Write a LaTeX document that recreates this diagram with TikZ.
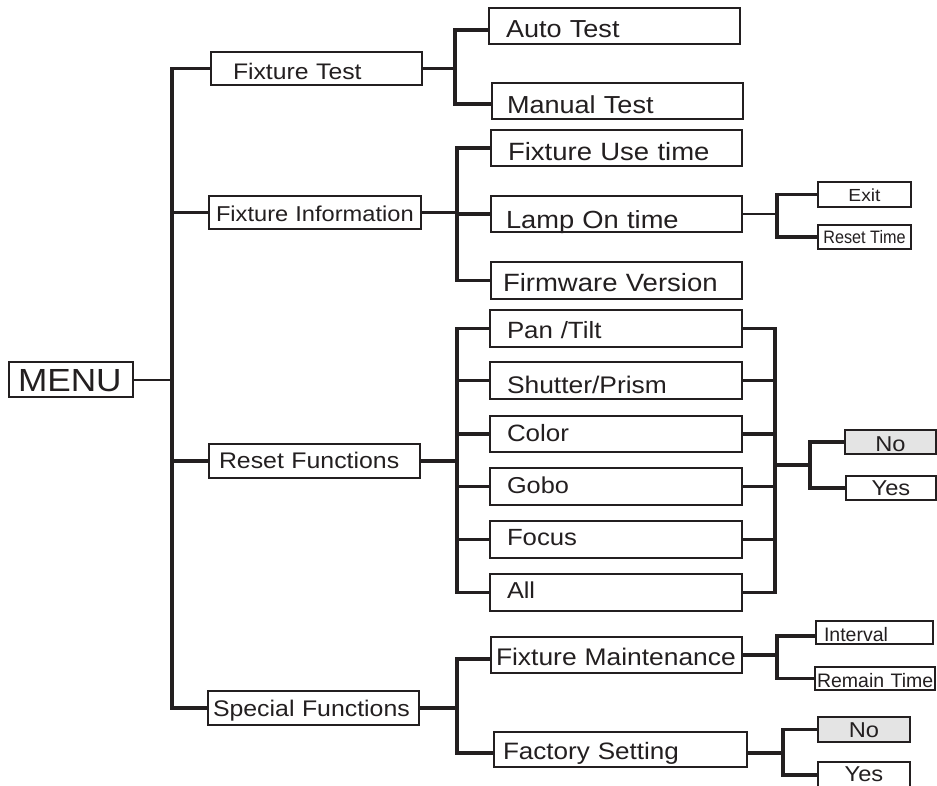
\documentclass[tikz,border=0pt]{standalone}
\usepackage{fontspec}
\newfontfamily\lab[FakeStretch=1.1]{Liberation Sans}
\newfontfamily\labn{Liberation Sans}
\newfontfamily\labc[FakeStretch=0.9]{Liberation Sans}
\definecolor{ink}{HTML}{231F20}
\definecolor{shade}{HTML}{E4E4E4}
\begin{document}
\begin{tikzpicture}[x=1pt,y=-1pt,
  box/.style={draw=ink, line width=1.9pt, rectangle, inner ysep=0pt, outer sep=0pt,
    text=ink, align=left, execute at begin node={\hyphenpenalty=10000 \exhyphenpenalty=10000 }},
  cbox/.style={draw=ink, line width=1.9pt, rectangle, inner sep=0pt, outer sep=0pt,
    text=ink, align=center},
  fs/.style n args={2}{font=\lab\fontsize{#1}{#1}\selectfont,
    /utils/exec={\pgfmathsetlengthmacro\mytxth{0.72*#1pt+2*(#2pt)}},
    text height=\mytxth, text depth=0pt},
  fn/.style n args={2}{font=\labn\fontsize{#1}{#1}\selectfont,
    /utils/exec={\pgfmathsetlengthmacro\mytxth{0.72*#1pt+2*(#2pt)}},
    text height=\mytxth, text depth=0pt},
  fc/.style n args={2}{font=\labc\fontsize{#1}{#1}\selectfont,
    /utils/exec={\pgfmathsetlengthmacro\mytxth{0.72*#1pt+2*(#2pt)}},
    text height=\mytxth, text depth=0pt},
  conn/.style={draw=ink, line width=3.2pt},
  thin/.style={draw=ink, line width=2pt}]
\useasboundingbox (0,0) rectangle (937,785);
\fill[white] (0,0) rectangle (937,785);
% level 0 and 1
\node[box, fs={32}{0}, text width=106pt, inner xsep=9pt, minimum height=35pt] (MENU) at (71,379.5) {MENU};
\node[box, fs={22.5}{3}, text width=167pt, inner xsep=22pt, minimum height=33pt] (FT) at (316.5,68.5) {Fixture~Test};
\node[box, fs={21.5}{1.5}, text width=198pt, inner xsep=7pt, minimum height=33pt] (FI) at (315,212.5) {Fixture~Information};
\node[box, fs={22.6}{-1}, text width=191pt, inner xsep=10pt, minimum height=34pt] (RF) at (314.5,461) {Reset~Functions};
\node[box, fs={22.6}{0}, text width=201pt, inner xsep=5pt, minimum height=34pt] (SF) at (313.5,708) {Special~Functions};
% level 2
\node[box, fs={24.6}{2.5}, text width=217pt, inner xsep=17pt, minimum height=36pt] (AT) at (614.5,26) {Auto~Test};
\node[box, fs={24.6}{4}, text width=221pt, inner xsep=15pt, minimum height=36pt] (MT) at (617.5,101) {Manual~Test};
\node[box, fs={25}{3.5}, text width=217pt, inner xsep=17pt, minimum height=36pt] (FU) at (616.5,148) {Fixture~Use~time};
\node[box, fs={24.8}{5.5}, text width=221pt, inner xsep=15pt, minimum height=36pt] (LO) at (616.5,214) {Lamp~On~time};
\node[box, fs={25}{2}, text width=227pt, inner xsep=12pt, minimum height=37pt] (FW) at (616.5,280.5) {Firmware~Version};
\node[box, fs={23.5}{2}, text width=218pt, inner xsep=17pt, minimum height=37pt] (PT) at (616,328.5) {Pan~/Tilt};
\node[box, fs={24}{4.5}, text width=218pt, inner xsep=17pt, minimum height=37pt] (SP) at (616,380.5) {Shutter/Prism};
\node[box, fs={23.6}{-1}, text width=218pt, inner xsep=17pt, minimum height=36pt] (CO) at (616,434) {Color};
\node[box, fs={23}{-1}, text width=218pt, inner xsep=17pt, minimum height=37pt] (GO) at (616,486.5) {Gobo};
\node[box, fs={23.4}{-2}, text width=218pt, inner xsep=17pt, minimum height=37pt] (FO) at (616,539.5) {Focus};
\node[box, fs={23}{-2.5}, text width=218pt, inner xsep=17pt, minimum height=37pt] (AL) at (616,592.5) {All};
\node[box, fs={24}{1.5}, text width=241pt, inner xsep=5pt, minimum height=36pt] (FM) at (616.5,655) {Fixture~Maintenance};
\node[box, fs={23.7}{1}, text width=235pt, inner xsep=9pt, minimum height=35pt] (FS) at (620.5,749.5) {Factory~Setting};
% level 3
\node[cbox, fs={17.5}{0.5}, minimum width=93pt, minimum height=25pt] (EX) at (864.5,194.5) {Exit};
\node[cbox, fc={18}{0}, minimum width=93pt, minimum height=24pt] (RT) at (864.5,237) {Reset~Time};
\node[cbox, fs={21.5}{1.5}, fill=shade, minimum width=91pt, minimum height=24pt] (NOa) at (890.5,442) {No};
\node[cbox, fs={21.5}{0}, minimum width=90pt, minimum height=24pt] (YEa) at (891,488) {Yes};
\node[box, fn={19.5}{2}, text width=101pt, inner xsep=8pt, minimum height=23pt] (IV) at (874.5,632.5) {Interval};
\node[box, fn={19.5}{2}, text width=116pt, inner xsep=2pt, minimum height=23pt] (RM) at (875,678.5) {Remain~Time};
\node[cbox, fs={21.5}{0}, fill=shade, minimum width=92pt, minimum height=25pt] (NOb) at (864,729.5) {No};
\node[cbox, fs={21.5}{-1}, minimum width=92pt, minimum height=26pt] (YEb) at (864,775) {Yes};
% bus coordinates
\coordinate (tk) at (172,0);
\coordinate (b1) at (455,0);
\coordinate (b2) at (457,0);
\coordinate (b3) at (777,0);
\coordinate (b4) at (775,0);
\coordinate (b5) at (783,0);
\coordinate (rj) at (775,465);
\coordinate (rk) at (810,465);
% trunk
\draw[thin] (MENU.east) -- (MENU.east -| tk);
\draw[conn] (FT.west) -- (FT.west -| tk) -- (SF.west -| tk) -- (SF.west);
\draw[conn] (FI.west) -- (FI.west -| tk);
\draw[conn] (RF.west) -- (RF.west -| tk);
% fixture test
\draw[conn] (FT.east) -- (FT.east -| b1);
\draw[conn] ([yshift=-4pt]AT.west) -- ([yshift=-4pt]AT.west -| b1) -- ([yshift=-3pt]MT.west -| b1) -- ([yshift=-3pt]MT.west);
% fixture information
\draw[conn] (FI.east) -- (FI.east -| b2);
\draw[conn] (FU.west) -- (FU.west -| b2) -- (FW.west -| b2) -- (FW.west);
\draw[conn] (LO.west) -- (LO.west -| b2);
\draw[thin] (LO.east) -- (LO.east -| b3);
\draw[conn] (EX.west) -- (EX.west -| b3) -- (RT.west -| b3) -- (RT.west);
% reset functions
\draw[conn] (RF.east) -- (RF.east -| b2);
\draw[conn] (PT.west) -- (PT.west -| b2) -- (AL.west -| b2) -- (AL.west);
\foreach \n in {SP,CO,GO,FO} \draw[conn] (\n.west) -- (\n.west -| b2);
\draw[conn] (PT.east) -- (PT.east -| b4) -- (AL.east -| b4) -- (AL.east);
\foreach \n in {SP,CO,GO,FO} \draw[conn] (\n.east) -- (\n.east -| b4);
\draw[conn] (rj) -- (rk);
\draw[conn] (NOa.west) -- (NOa.west -| rk) -- (YEa.west -| rk) -- (YEa.west);
% special functions
\draw[conn] (SF.east) -- (SF.east -| b2);
\draw[conn] ([yshift=-4pt]FM.west) -- ([yshift=-4pt]FM.west -| b2) -- ([yshift=-3.5pt]FS.west -| b2) -- ([yshift=-3.5pt]FS.west);
\draw[conn] (FM.east) -- (FM.east -| b3);
\draw[conn] ([yshift=-3.5pt]IV.west) -- ([yshift=-3.5pt]IV.west -| b3) -- (RM.west -| b3) -- (RM.west);
\draw[conn] ([yshift=-3.5pt]FS.east) -- ([yshift=-3.5pt]FS.east -| b5);
\draw[conn] (NOb.west) -- (NOb.west -| b5) -- (YEb.west -| b5) -- (YEb.west);
\end{tikzpicture}
\end{document}
